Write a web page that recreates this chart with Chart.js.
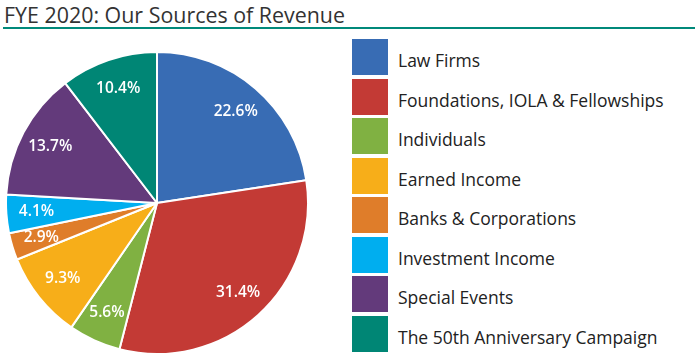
<!DOCTYPE html>
<html><head><meta charset="utf-8">
<script src="https://cdn.jsdelivr.net/npm/chart.js@4"></script>
<style>
html,body{margin:0;padding:0;background:#fff;width:699px;height:361px;overflow:hidden;font-family:"Open Sans",sans-serif;}
#title{position:absolute;left:4px;top:0px;font-size:21.5px;color:#333;white-space:nowrap;transform-origin:0 0;line-height:normal;}
#rule{position:absolute;left:3px;top:27px;width:692px;height:2px;background:#00897a;}
#pie{position:absolute;left:5px;top:51px;width:304px;height:304px;}
#legend{position:absolute;left:352px;top:39px;}
.item{position:relative;height:36px;margin-bottom:3.5px;}
.box{position:absolute;left:0;top:0;width:36px;height:36px;}
.lab{position:absolute;left:46px;top:10px;font-size:17.5px;color:#222;white-space:nowrap;line-height:22px;}
</style></head>
<body>
<div id="title">FYE 2020: Our Sources of Revenue</div>
<div id="rule"></div>
<div id="pie"><canvas id="c"></canvas></div>
<div id="legend"></div>
<script>
const categories = ["Law Firms","Foundations, IOLA & Fellowships","Individuals","Earned Income","Banks & Corporations","Investment Income","Special Events","The 50th Anniversary Campaign"];
const shares = [22.6,31.4,5.6,9.3,2.9,4.1,13.7,10.4];
const colors = ["#386cb4","#c33a35","#80b142","#f7ae19","#df7d2a","#00aeef","#633a7b","#008675"];

const t=document.getElementById('title');
const tw=t.getBoundingClientRect().width;
t.style.transform='scaleX('+(341/tw)+')';

const lg = document.getElementById('legend');
categories.forEach((c,i)=>{
  const d=document.createElement('div');d.className='item';
  d.innerHTML='<div class="box" style="background:'+colors[i]+'"></div><div class="lab"></div>';
  d.querySelector('.lab').textContent=c;
  lg.appendChild(d);
});

const labelPlugin = {
  id:'pctLabels',
  afterDatasetsDraw(chart){
    const ctx=chart.ctx;
    const meta=chart.getDatasetMeta(0);
    ctx.save();
    ctx.fillStyle='#fff';
    ctx.font='600 15.5px "Open Sans"';
    ctx.textAlign='center';ctx.textBaseline='middle';
    meta.data.forEach((arc,i)=>{
      const p=arc.getProps(['x','y','startAngle','endAngle','outerRadius'],true);
      const mid=(p.startAngle+p.endAngle)/2;
      const r=p.outerRadius*0.8;
      ctx.fillText(shares[i].toFixed(1)+'%', p.x+Math.cos(mid)*r, p.y+Math.sin(mid)*r);
    });
    ctx.restore();
  }
};

new Chart(document.getElementById('c'),{
  type:'pie',
  data:{labels:categories,datasets:[{data:shares,backgroundColor:colors,borderColor:'#fff',borderWidth:2}]},
  options:{responsive:true,maintainAspectRatio:false,animation:false,
    layout:{padding:0},
    plugins:{legend:{display:false},tooltip:{enabled:false}}},
  plugins:[labelPlugin]
});
</script>
</body></html>
